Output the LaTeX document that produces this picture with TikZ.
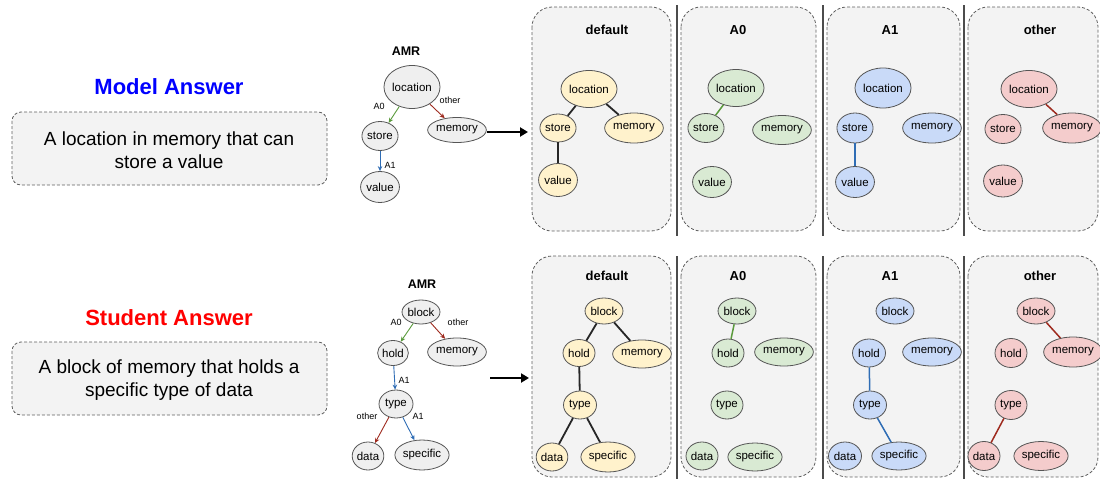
\documentclass[tikz,border=0pt]{standalone}
\usepackage{fontspec}
\setmainfont{Liberation Sans}
\usetikzlibrary{shapes.geometric,arrows.meta}

\definecolor{panelfill}{HTML}{F3F3F3}
\definecolor{dashline}{HTML}{5F5F5F}
\definecolor{nodeline}{HTML}{555555}
\definecolor{amrfill}{HTML}{EFEFEF}
\definecolor{ylw}{HTML}{FFF2CC}
\definecolor{grn}{HTML}{D9EAD3}
\definecolor{blu}{HTML}{C9DAF8}
\definecolor{pnk}{HTML}{F4CCCC}
\definecolor{gedge}{HTML}{5A9A3C}
\definecolor{redge}{HTML}{9E2A1E}
\definecolor{bedge}{HTML}{2F6DB5}
\definecolor{modelblue}{HTML}{0000FF}
\definecolor{studentred}{HTML}{FF0000}

\tikzset{
  nd/.style={ellipse, draw=nodeline, line width=0.8pt, inner sep=0pt,
    font=\fontsize{11.5}{12}\selectfont},
  sz/.style 2 args={minimum width=#1pt, minimum height=#2pt},
  panel/.style={draw=dashline, fill=panelfill, dash pattern=on 3pt off 2pt,
    line width=0.8pt, rounded corners=20pt},
  ansbox/.style={draw=dashline, fill=panelfill, dash pattern=on 3pt off 2pt,
    line width=0.8pt, rounded corners=9pt},
  divider/.style={draw=black!70, line width=1.1pt},
  ptitle/.style={font=\bfseries\fontsize{13}{14}\selectfont},
  heading/.style={font=\bfseries\fontsize{22}{24}\selectfont},
  anstext/.style={align=center, font=\fontsize{19}{23.5}\selectfont},
  elbl/.style={font=\fontsize{9}{10}\selectfont, inner sep=0pt},
  amrarrow/.style={line width=0.9pt, -{Stealth[length=5pt,width=4.5pt]}},
  bigarrow/.style={line width=2.2pt, -{Triangle[length=8pt,width=9pt]}},
  plain/.style={line width=1.8pt, black!85},
  gline/.style={line width=1.5pt, gedge},
  rline/.style={line width=1.5pt, redge},
  bline/.style={line width=1.5pt, bedge},
}

\begin{document}
\begin{tikzpicture}[x=1pt, y=-1pt]
\useasboundingbox (0,0) rectangle (1100,479);

% ---------- answers ----------
\node[heading, text=modelblue] (mh) at (169,87) {Model Answer};
\draw[ansbox] (12,112) rectangle (327,185);
\node[anstext] (mt) at (169,150) {A location in memory that can\\store a value};

\node[heading, text=studentred] (sh) at (169,318) {Student Answer};
\draw[ansbox] (12,342) rectangle (327,415);
\node[anstext] (st) at (169,380) {A block of memory that holds a\\specific type of data};

% ---------- AMR graph of the model answer ----------
\node[font=\bfseries\fontsize{12.5}{13}\selectfont] (amr1) at (406,51) {AMR};
\node[nd, fill=amrfill, sz={45}{43}] (a1loc) at (412,87) {location};
\node[nd, fill=amrfill, sz={32}{29}] (a1sto) at (380,136) {store};
\node[nd, fill=amrfill, sz={53}{25}] (a1mem) at (457,130) {memory};
\node[nd, fill=amrfill, sz={32}{31}] (a1val) at (380,187) {value};
\draw[amrarrow, gedge] (a1loc) -- (a1sto);
\draw[amrarrow, redge] (a1loc) -- (a1mem);
\draw[amrarrow, bedge] (a1sto) -- (a1val);
\node[elbl] (l1a) at (379,106) {A0};
\node[elbl] (l1b) at (450,100) {other};
\node[elbl] (l1c) at (390,165) {A1};

% ---------- AMR graph of the student answer ----------
\node[font=\bfseries\fontsize{12.5}{13}\selectfont] (amr2) at (422,284) {AMR};
\node[nd, fill=amrfill, sz={33}{24}] (a2blk) at (421,312) {block};
\node[nd, fill=amrfill, sz={29}{25}] (a2hld) at (393,353) {hold};
\node[nd, fill=amrfill, sz={52}{28}] (a2mem) at (457,352) {memory};
\node[nd, fill=amrfill, sz={34}{28}] (a2typ) at (396,404) {type};
\node[nd, fill=amrfill, sz={31}{28}] (a2dat) at (368,456) {data};
\node[nd, fill=amrfill, sz={40}{30}] (a2spe) at (422,455) {specific};
\draw[amrarrow, gedge] (a2blk) -- (a2hld);
\draw[amrarrow, redge] (a2blk) -- (a2mem);
\draw[amrarrow, bedge] (a2hld) -- (a2typ);
\draw[amrarrow, redge] (a2typ) -- (a2dat);
\draw[amrarrow, bedge] (a2typ) -- (a2spe);
\node[elbl] (l2a) at (396,322) {A0};
\node[elbl] (l2b) at (458,322) {other};
\node[elbl] (l2c) at (404,380) {A1};
\node[elbl] (l2d) at (367,416) {other};
\node[elbl] (l2e) at (418,416) {A1};

% ---------- arrows into the panels ----------
\coordinate (ar1s) at (487,132);
\coordinate (ar1e) at (528,132);
\draw[bigarrow] (ar1s) -- (ar1e);
\coordinate (ar2s) at (490,378);
\coordinate (ar2e) at (529,378);
\draw[bigarrow] (ar2s) -- (ar2e);

% ---------- panels and dividers ----------
\foreach \xa/\xb in {532/671, 681/816, 827/960, 968/1098} {
  \draw[panel] (\xa,7) rectangle (\xb,231);
  \draw[panel] (\xa,256) rectangle (\xb,477);
}
\foreach \xd in {677, 823, 964} {
  \draw[divider] (\xd,5) -- (\xd,236);
  \draw[divider] (\xd,256) -- (\xd,479);
}

\node[ptitle] (t1) at (607,30) {default};
\node[ptitle] (t2) at (738,30) {A0};
\node[ptitle] (t3) at (890,30) {A1};
\node[ptitle] (t4) at (1040,30) {other};
\node[ptitle] (t5) at (607,276) {default};
\node[ptitle] (t6) at (738,276) {A0};
\node[ptitle] (t7) at (890,276) {A1};
\node[ptitle] (t8) at (1040,276) {other};

% ---------- top panels ----------
% default
\node[nd, fill=ylw, sz={46}{37}] (dloc) at (589,89) {location};
\node[nd, fill=ylw, sz={34}{28}] (dsto) at (558,128) {store};
\node[nd, fill=ylw, sz={53}{30}] (dmem) at (634,128) {memory};
\node[nd, fill=ylw, sz={32}{33}] (dval) at (558,180) {value};
\draw[plain] (dloc) -- (dsto);
\draw[plain] (dloc) -- (dmem);
\draw[plain] (dsto) -- (dval);
% A0
\node[nd, fill=grn, sz={46}{37}] (gloc) at (736,88) {location};
\node[nd, fill=grn, sz={33}{29}] (gsto) at (706,128) {store};
\node[nd, fill=grn, sz={53}{29}] (gmem) at (782,130) {memory};
\node[nd, fill=grn, sz={33}{31}] (gval) at (712,182) {value};
\draw[gline] (gloc) -- (gsto);
% A1
\node[nd, fill=blu, sz={45}{40}] (bloc) at (883,88) {location};
\node[nd, fill=blu, sz={34}{30}] (bsto) at (855,128) {store};
\node[nd, fill=blu, sz={53}{30}] (bmem) at (932,128) {memory};
\node[nd, fill=blu, sz={34}{31}] (bval) at (855,182) {value};
\draw[bline] (bsto) -- (bval);
% other
\node[nd, fill=pnk, sz={48}{37}] (rloc) at (1029,89) {location};
\node[nd, fill=pnk, sz={33}{29}] (rsto) at (1003,129) {store};
\node[nd, fill=pnk, sz={52}{30}] (rmem) at (1072,128) {memory};
\node[nd, fill=pnk, sz={34}{32}] (rval) at (1003,181) {value};
\draw[rline] (rloc) -- (rmem);

% ---------- bottom panels ----------
% default
\node[nd, fill=ylw, sz={32}{26}] (dblk) at (604,311) {block};
\node[nd, fill=ylw, sz={32}{27}] (dhld) at (579,353) {hold};
\node[nd, fill=ylw, sz={53}{28}] (dmm2) at (642,354) {memory};
\node[nd, fill=ylw, sz={33}{28}] (dtyp) at (580,405) {type};
\node[nd, fill=ylw, sz={31}{28}] (ddat) at (552,457) {data};
\node[nd, fill=ylw, sz={43}{30}] (dspe) at (608,457) {specific};
\draw[plain] (dblk) -- (dhld);
\draw[plain] (dblk) -- (dmm2);
\draw[plain] (dhld) -- (dtyp);
\draw[plain] (dtyp) -- (ddat);
\draw[plain] (dtyp) -- (dspe);
% A0
\node[nd, fill=grn, sz={32}{26}] (gblk) at (737,311) {block};
\node[nd, fill=grn, sz={32}{28}] (ghld) at (728,353) {hold};
\node[nd, fill=grn, sz={54}{28}] (gmm2) at (784,352) {memory};
\node[nd, fill=grn, sz={32}{28}] (gtyp) at (727,405) {type};
\node[nd, fill=grn, sz={32}{28}] (gdat) at (702,456) {data};
\node[nd, fill=grn, sz={43}{28}] (gspe) at (755,457) {specific};
\draw[gline] (gblk) -- (ghld);
% A1
\node[nd, fill=blu, sz={33}{26}] (bblk) at (895,311) {block};
\node[nd, fill=blu, sz={33}{28}] (bhld) at (869,353) {hold};
\node[nd, fill=blu, sz={53}{28}] (bmm2) at (932,352) {memory};
\node[nd, fill=blu, sz={33}{28}] (btyp) at (870,405) {type};
\node[nd, fill=blu, sz={33}{28}] (bdat) at (845,456) {data};
\node[nd, fill=blu, sz={44}{28}] (bspe) at (899,456) {specific};
\draw[bline] (bhld) -- (btyp);
\draw[bline] (btyp) -- (bspe);
% other
\node[nd, fill=pnk, sz={34}{26}] (rblk) at (1036,311) {block};
\node[nd, fill=pnk, sz={32}{29}] (rhld) at (1011,353) {hold};
\node[nd, fill=pnk, sz={53}{30}] (rmm2) at (1073,352) {memory};
\node[nd, fill=pnk, sz={32}{29}] (rtyp) at (1011,405) {type};
\node[nd, fill=pnk, sz={32}{29}] (rdat) at (984,456) {data};
\node[nd, fill=pnk, sz={45}{29}] (rspe) at (1041,456) {specific};
\draw[rline] (rblk) -- (rmm2);
\draw[rline] (rtyp) -- (rdat);
\end{tikzpicture}
\end{document}
